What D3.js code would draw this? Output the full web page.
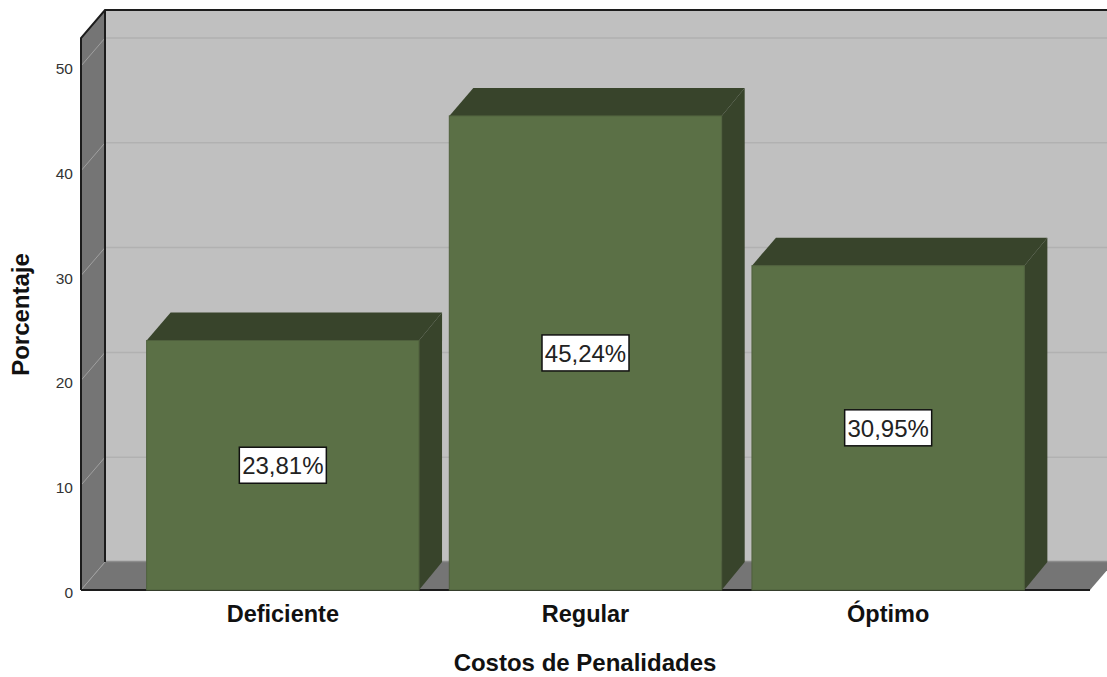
<!DOCTYPE html>
<html><head><meta charset="utf-8">
<script src="https://cdnjs.cloudflare.com/ajax/libs/d3/7.8.5/d3.min.js"></script>
<style>html,body{margin:0;padding:0;background:#fff;overflow:hidden}svg{display:block}text{font-family:"Liberation Sans",Arial,sans-serif}</style>
</head><body>
<script>
const categories = ["Deficiente", "Regular", "Óptimo"];
const values = [23.81, 45.24, 30.95];
const valueLabels = ["23,81%", "45,24%", "30,95%"];
const yTicks = [0, 10, 20, 30, 40, 50];
const xTitle = "Costos de Penalidades";
const yTitle = "Porcentaje";

const W = 1107, H = 677;
const left = 81, right = 1090, base = 590, dx = 24, dy = 28, wallTop = 10;
const svg = d3.select("body").append("svg").attr("width", W).attr("height", H);
const y = d3.scaleLinear().domain([0, 50]).range([base, 66]);
const x = d3.scaleBand().domain(categories).range([left + 50.5, right - 50.5]).paddingInner(0.1).paddingOuter(0.05);
const poly = (pts, fill, stroke, sw) => svg.append("polygon").attr("points", pts.map(p => p.join(",")).join(" "))
  .attr("fill", fill).attr("stroke", stroke || "none").attr("stroke-width", sw || 0);

// back wall
poly([[left + dx, wallTop], [W + 5, wallTop], [W + 5, base - dy], [left + dx, base - dy]], "#c0c0c0");
// left wall
poly([[left, wallTop + dy], [left + dx, wallTop], [left + dx, base - dy], [left, base]], "#757575");
// floor (right edge runs on past the picture's edge)
poly([[left, base], [left + dx, base - dy], [right + dx, base - dy], [right, base]], "#757575");
// grid lines
yTicks.forEach(t => {
  const yy = y(t);
  if (t > 0) svg.append("line").attr("x1", left + dx).attr("x2", W + 5).attr("y1", yy - dy).attr("y2", yy - dy).attr("stroke", "#b1b1b1").attr("stroke-width", 1.5);
  svg.append("line").attr("x1", left).attr("x2", left + dx).attr("y1", yy).attr("y2", yy - dy).attr("stroke", "#a0a0a0").attr("stroke-width", 1);
});
svg.append("line").attr("x1", left + dx).attr("x2", W + 5).attr("y1", base - dy - 0.5).attr("y2", base - dy - 0.5).attr("stroke", "#8c8c8c").attr("stroke-width", 1.5);
// frame
const frame = "#1c1c1c";
svg.append("path").attr("fill", "none").attr("stroke", frame).attr("stroke-width", 2)
  .attr("d", `M${left},${base}V${wallTop + dy}L${left + dx},${wallTop}H${W + 5}`);
svg.append("path").attr("fill", "none").attr("stroke", frame).attr("stroke-width", 2)
  .attr("d", `M${left + dx},${wallTop}V${base - dy}`);
svg.append("path").attr("fill", "none").attr("stroke", frame).attr("stroke-width", 2)
  .attr("d", `M${left},${base}H${right}`);

// bars
const catWidths = [112, 89, 81];
categories.forEach((c, i) => {
  const x0 = x(c), x1 = x0 + x.bandwidth(), top = y(values[i]);
  poly([[x1, top], [x1 + dx - 1, top - dy], [x1 + dx - 1, base - dy], [x1, base]], "#38442b");
  poly([[x0, top], [x0 + dx, top - dy], [x1 + dx - 1, top - dy], [x1, top]], "#38442b");
  svg.append("rect").attr("x", x0).attr("y", top).attr("width", x.bandwidth()).attr("height", base - top)
    .attr("fill", "#5b7046").attr("stroke", "#4f603d").attr("stroke-width", 1);
  const cx = x0 + x.bandwidth() / 2, cy = (top + base) / 2;
  const lw = 87, lh = 36;
  svg.append("rect").attr("x", cx - lw / 2).attr("y", cy - lh / 2).attr("width", lw).attr("height", lh)
    .attr("fill", "#fff").attr("stroke", "#111").attr("stroke-width", 1.5);
  svg.append("text").attr("x", cx).attr("y", cy + 9).attr("text-anchor", "middle")
    .attr("font-size", 24).attr("fill", "#222").text(valueLabels[i]);
  svg.append("text").attr("x", cx).attr("y", 622).attr("text-anchor", "middle")
    .attr("font-size", 23.5).attr("font-weight", "bold").attr("fill", "#111").text(c);
});

// axis labels
yTicks.forEach(t => {
  svg.append("text").attr("x", 73).attr("y", y(t) + 8).attr("text-anchor", "end")
    .attr("font-size", 15.5).attr("fill", "#333").text(t);
});
svg.append("text").attr("x", 585).attr("y", 671).attr("text-anchor", "middle")
  .attr("font-size", 24).attr("font-weight", "bold").attr("fill", "#111").text(xTitle);
svg.append("text").attr("transform", "translate(29,314.5) rotate(-90)").attr("text-anchor", "middle")
  .attr("font-size", 24).attr("font-weight", "bold").attr("fill", "#111").text(yTitle);
</script>
</body></html>
